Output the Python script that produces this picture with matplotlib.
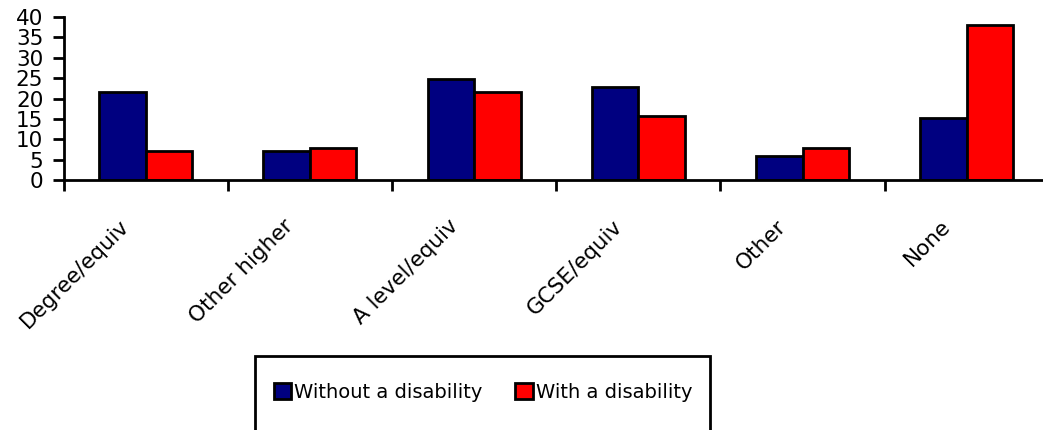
import numpy as np
import matplotlib
matplotlib.use("Agg")
import matplotlib.pyplot as plt
from matplotlib.patches import Rectangle

categories = ["Degree/equiv", "Other higher", "A level/equiv", "GCSE/equiv", "Other", "None"]
without_disability = [21.6, 7.2, 24.8, 22.8, 6.0, 15.1]
with_disability = [7.1, 7.9, 21.6, 15.6, 7.9, 38.0]
y_ticks = [0, 5, 10, 15, 20, 25, 30, 35, 40]

fig = plt.figure(figsize=(10.43, 4.3), dpi=100)
fig.patch.set_facecolor("white")
ax = fig.add_axes([63.5 / 1043, 1 - 180 / 430, (1049 - 63.5) / 1043, (180 - 17) / 430])

x = np.arange(len(categories))
w = 0.283
b1 = ax.bar(x - w / 2, without_disability, w, color="#000080", edgecolor="black", linewidth=2,
            label="Without a disability")
b2 = ax.bar(x + w / 2, with_disability, w, color="#ff0000", edgecolor="black", linewidth=2,
            label="With a disability")

ax.set_xlim(-0.5, len(categories) - 0.5)
ax.set_ylim(0, 40)
ax.set_yticks(y_ticks)
ax.set_yticklabels([str(t) for t in y_ticks], fontsize=15.5)
ax.tick_params(axis="y", length=8, width=2, pad=6.5, direction="out")

# category labels, rotated, ending left of the category centre
ax.set_xticks([])
for i, name in enumerate(categories):
    ax.annotate(name, xy=(i, 0), xycoords=("data", "axes fraction"),
                xytext=(-19, -26), textcoords="offset points",
                rotation=45, ha="right", va="top", rotation_mode="anchor", fontsize=15.5)
ax.set_xticks(np.arange(len(categories) + 1) - 0.5, minor=True)
ax.tick_params(axis="x", which="minor", length=8, width=2, direction="out")

for s in ["top", "right"]:
    ax.spines[s].set_visible(False)
for s in ["left", "bottom"]:
    ax.spines[s].set_linewidth(2)

# legend box runs off the bottom of the figure
fig.patches.append(Rectangle((255 / 1043, -0.05), (710 - 255) / 1043, 0.05 + 1 - 356 / 430,
                             transform=fig.transFigure, fill=False, edgecolor="black", linewidth=2))
fig.legend(handles=[b1, b2], loc="center", bbox_to_anchor=(0.4631, 1 - 392 / 430), ncol=2,
           frameon=False, handlelength=0.88, handleheight=0.88, handletextpad=0.15, columnspacing=1.7,
           prop={"size": 14})

fig.savefig("out.png", dpi=100, facecolor="white")
